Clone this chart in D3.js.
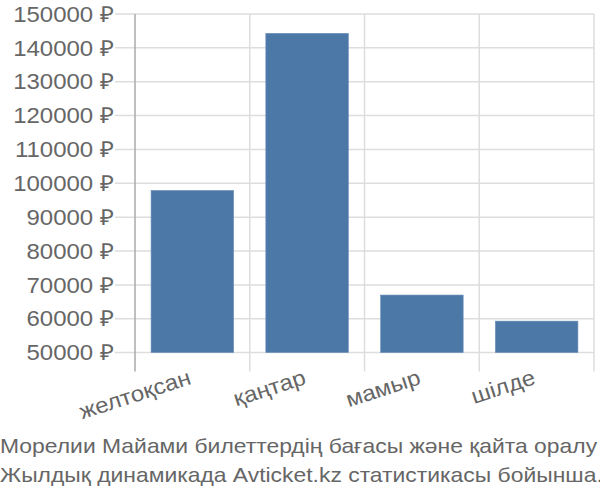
<!DOCTYPE html>
<html><head><meta charset="utf-8">
<script src="https://cdn.jsdelivr.net/npm/d3@7"></script>
<style>body{margin:0;background:#fff}svg{display:block}</style>
</head><body>
<svg id="chart" width="600" height="500"></svg>
<script>
const categories = ["желтоқсан", "қаңтар", "мамыр", "шілде"];
const prices = [97900, 144300, 67000, 59300];
const yTickValues = [50000, 60000, 70000, 80000, 90000, 100000, 110000, 120000, 130000, 140000, 150000];
const titleLines = [
  "Морелии Майами билеттердің бағасы және қайта оралу",
  "Жылдық динамикада Avticket.kz статистикасы бойынша."
];

(function() {
const svg = d3.select("#chart");
const font = "'Liberation Sans', Arial, sans-serif";
const textColor = "#666";
const pLeft = 135, pRight = 594, pTop = 14, pBottom = 352.6;
const stretch = 1.09;
function widen() {
  const len = this.getComputedTextLength();
  d3.select(this).attr("textLength", len * stretch).attr("lengthAdjust", "spacingAndGlyphs");
}

const x = d3.scaleBand().domain(categories).range([pLeft, pRight]).paddingInner(0.28).paddingOuter(0.14);
const y = d3.scaleLinear().domain([50000, 150000]).range([pBottom, pTop]);

// horizontal gridlines
svg.append("g").selectAll("line").data(yTickValues).join("line")
  .attr("x1", pLeft - 20).attr("x2", pRight)
  .attr("y1", d => y(d)).attr("y2", d => y(d))
  .attr("stroke", "#ddd").attr("stroke-width", 1.5);

// vertical gridlines at band boundaries
const bounds = categories.map(c => x(c) - x.step() * x.paddingInner() / 2);
bounds.push(pRight);
bounds[0] = pLeft;
svg.append("g").selectAll("line").data(bounds).join("line")
  .attr("x1", d => d).attr("x2", d => d)
  .attr("y1", pTop).attr("y2", pBottom + 19)
  .attr("stroke", (d, i) => i === 0 ? "#aaa" : "#ddd").attr("stroke-width", 1.5);

// bars
svg.append("g").selectAll("rect").data(prices).join("rect")
  .attr("x", (d, i) => x(categories[i]))
  .attr("width", x.bandwidth())
  .attr("y", d => y(d))
  .attr("height", d => y(50000) - y(d))
  .attr("fill", "#4c78a8")
  .attr("stroke", "#6f93bd").attr("stroke-width", 0.6);

// y labels
svg.append("g").selectAll("text").data(yTickValues).join("text")
  .attr("x", pLeft - 21).attr("y", d => y(d))
  .attr("dy", "0.35em")
  .attr("text-anchor", "end")
  .attr("font-family", font).attr("font-size", 22)
  .attr("fill", textColor)
  .text(d => d + " ₽")
  .each(widen);

// x labels
svg.append("g").selectAll("text").data(categories).join("text")
  .attr("transform", d => `translate(${x(d) + x.bandwidth() / 2},${pBottom + 31}) rotate(-18)`)
  .attr("text-anchor", "end")
  .attr("font-family", font).attr("font-size", 22)
  .attr("fill", textColor)
  .text(d => d)
  .each(widen);

// title
svg.append("g").selectAll("text").data(titleLines).join("text")
  .attr("x", 0).attr("y", (d, i) => 453 + i * 29)
  .attr("font-family", font).attr("font-size", 21)
  .attr("fill", textColor)
  .text(d => d)
  .each(widen);
})();
</script>
</body></html>
